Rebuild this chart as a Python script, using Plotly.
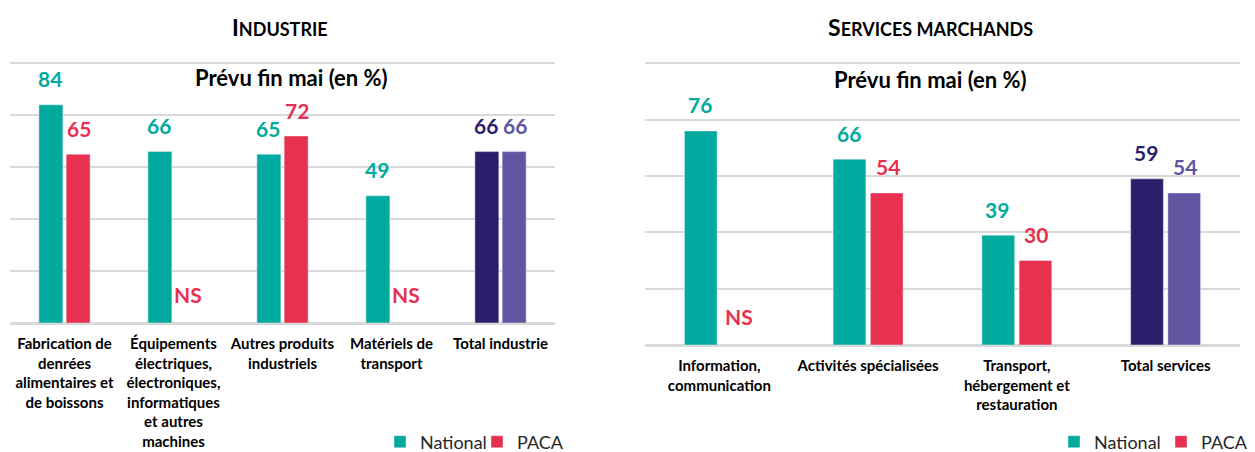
import plotly.graph_objects as go

# data
industrie_cats = [
    "Fabrication de<br>denrées<br>alimentaires et<br>de boissons",
    "Équipements<br>électriques,<br>électroniques,<br>informatiques<br>et autres<br>machines",
    "Autres produits<br>industriels",
    "Matériels de<br>transport",
    "Total industrie",
]
industrie_national = [84, 66, 65, 49, 66]
industrie_paca = [65, None, 72, None, 66]

services_cats = [
    "Information,<br>communication",
    "Activités spécialisées",
    "Transport,<br>hébergement et<br>restauration",
    "Total services",
]
services_national = [76, 66, 39, 59]
services_paca = [None, 54, 30, 54]

TEAL = "#00AA9E"
RED = "#E8304F"
NAVY = "#2B1E6B"
PURPLE = "#6155A2"
GRID = "#D9D9D9"
FONT = "Lato"

# the page body has an 8px margin, so the figure is 8px smaller each way
OFF = 8
W, H = 1255 - OFF, 452 - OFF
BARGAP, GROUPGAP = 0.5, 0.12


def px_x(p):
    return (p - OFF) / W


def px_y(p):
    return 1 - (p - OFF) / H


def colors(n, base, total):
    return [base] * (n - 1) + [total]


fig = go.Figure()

panels = [
    ("x", "y", "legend", industrie_cats, industrie_national, industrie_paca, (10, 555)),
    ("x2", "y2", "legend2", services_cats, services_national, services_paca, (645, 1240)),
]

annotations = []
for xa, ya, leg, cats, nat, paca, (x0, x1) in panels:
    n = len(cats)
    nat_col = colors(n, TEAL, NAVY)
    paca_col = colors(n, RED, PURPLE)
    fig.add_trace(go.Bar(x=cats, y=nat, name="National", marker_color=nat_col,
                         xaxis=xa, yaxis=ya, legend=leg))
    fig.add_trace(go.Bar(x=cats, y=paca, name="PACA", marker_color=paca_col,
                         xaxis=xa, yaxis=ya, legend=leg))
    # label offsets from the grouped bar layout
    shift = (x1 - x0) / n * (1 - BARGAP) / 4 + 1
    for vals, cols, sgn in ((nat, nat_col, -1), (paca, paca_col, 1)):
        for c, v, col in zip(cats, vals, cols):
            annotations.append(dict(
                x=c, y=v if v is not None else 0, xref=xa, yref=ya,
                text="<b>%s</b>" % (v if v is not None else "NS"),
                showarrow=False, xshift=sgn * shift,
                yshift=26 if v is not None else 14,
                xanchor="center",
                yanchor="middle" if v is not None else "bottom",
                font=dict(family=FONT, size=21, color=col),
            ))

# titles
title_font = dict(family=FONT, size=23, color="black")
sub_font = dict(family=FONT, size=22, color="black")
annotations += [
    dict(x=px_x(280), y=px_y(27), text="<b>I<span style='font-size:18px'>NDUSTRIE</span></b>",
         font=title_font),
    dict(x=px_x(931), y=px_y(27),
         text="<b>S<span style='font-size:18px'>ERVICES MARCHANDS</span></b>",
         font=title_font),
    dict(x=px_x(291), y=px_y(78), text="<b>Prévu fin mai (en %)</b>", font=sub_font),
    dict(x=px_x(930), y=px_y(79), text="<b>Prévu fin mai (en %)</b>", font=sub_font),
]
for a in annotations[-4:]:
    a.update(xref="paper", yref="paper", showarrow=False, xanchor="center", yanchor="middle")

xstyle = dict(showgrid=False, ticks="", showline=False, ticklabelstandoff=10,
              tickfont=dict(family=FONT, size=15, color="black", weight="bold"))
ystyle = dict(range=[0, 100.5], dtick=20, showgrid=True, gridcolor=GRID, gridwidth=1.5,
              showticklabels=False, zeroline=True, zerolinecolor=GRID, zerolinewidth=2.5)
legstyle = dict(orientation="h", xanchor="left", yanchor="middle",
                font=dict(family=FONT, size=18, color="#262626"),
                itemwidth=30, bgcolor="rgba(0,0,0,0)")

fig.update_layout(
    width=W, height=H,
    margin=dict(l=0, r=0, t=0, b=0, autoexpand=False),
    paper_bgcolor="white", plot_bgcolor="white",
    barmode="group", bargap=BARGAP, bargroupgap=GROUPGAP,
    xaxis=dict(domain=[px_x(10), px_x(555)], anchor="y", **xstyle),
    yaxis=dict(domain=[px_y(323), px_y(62)], anchor="x", **ystyle),
    xaxis2=dict(domain=[px_x(645), px_x(1240)], anchor="y2", **xstyle),
    yaxis2=dict(domain=[px_y(345), px_y(62)], anchor="x2", **ystyle),
    legend=dict(x=px_x(380), y=px_y(442), entrywidth=52, **legstyle),
    legend2=dict(x=px_x(1054), y=px_y(442), entrywidth=62, **legstyle),
    annotations=annotations,
)

fig.write_html("out.html")
